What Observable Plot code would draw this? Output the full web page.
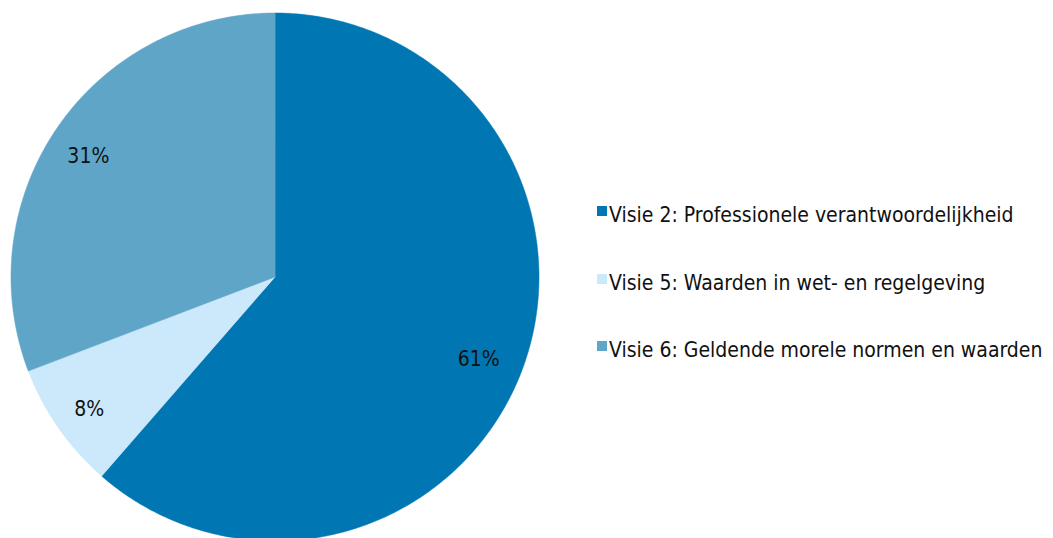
<!DOCTYPE html>
<html>
<head>
<meta charset="utf-8">
<script src="https://cdn.jsdelivr.net/npm/d3@7"></script>
<script src="https://cdn.jsdelivr.net/npm/@observablehq/plot@0.6"></script>
<style>
  html, body { margin: 0; padding: 0; background: #fff; }
  #wrap { position: relative; width: 1053px; height: 538px; overflow: hidden; font-family: "DejaVu Sans Condensed", "DejaVu Sans", sans-serif; }
  #legend { position: absolute; left: 597px; top: 0; }
  .item { position: absolute; white-space: nowrap; font-size: 21px; color: #111; display: flex; align-items: center; }
  .sw { width: 10px; height: 10px; margin-right: 2px; margin-top: -8px; }
</style>
</head>
<body>
<div id="wrap"><div id="legend"></div></div>
<script>
const categories = ["Visie 2: Professionele verantwoordelijkheid", "Visie 5: Waarden in wet- en regelgeving", "Visie 6: Geldende morele normen en waarden"];
const values = [61.4, 7.8, 30.8];
const labels = ["61%", "8%", "31%"];
const colors = ["#0077b3", "#cce9fb", "#5fa5c8"];

const pie = d3.pie().sort(null).value(d => d)(values);
const pts = [];
pie.forEach((p, i) => {
  pts.push({cat: categories[i], x: 0, y: 0});
  const n = Math.max(8, Math.ceil((p.endAngle - p.startAngle) / 0.01));
  for (let k = 0; k <= n; k++) {
    const a = p.startAngle + (p.endAngle - p.startAngle) * k / n;
    pts.push({cat: categories[i], x: Math.sin(a), y: Math.cos(a)});
  }
});
const lab = pie.map((p, i) => {
  const a = (p.startAngle + p.endAngle) / 2;
  return {text: labels[i], x: 0.84 * Math.sin(a), y: 0.84 * Math.cos(a)};
});

const chart = Plot.plot({
  width: 1053,
  height: 538,
  margin: 0,
  x: {domain: [-1, 1], range: [10.5, 538.5], axis: null},
  y: {domain: [-1, 1], range: [540.5, 12.5], axis: null},
  color: {domain: categories, range: colors},
  style: {fontFamily: '"DejaVu Sans Condensed", "DejaVu Sans", sans-serif', background: "#fff"},
  marks: [
    Plot.line(pts, {x: "x", y: "y", z: "cat", fill: "cat", stroke: "cat", strokeWidth: 0.5, curve: "linear-closed"}),
    Plot.text(lab, {x: "x", y: "y", text: "text", fontSize: 21, fill: "#111", dx: -4, dy: 5})
  ]
});
document.getElementById("wrap").prepend(chart);
chart.style.position = "absolute"; chart.style.left = "0"; chart.style.top = "0";

const legend = document.getElementById("legend");
const tops = [203, 271, 338];
categories.forEach((c, i) => {
  const d = document.createElement("div");
  d.className = "item";
  d.style.top = tops[i] + "px";
  d.innerHTML = `<span class="sw" style="background:${colors[i]}"></span><span>${c}</span>`;
  legend.appendChild(d);
});
</script>
</body>
</html>
